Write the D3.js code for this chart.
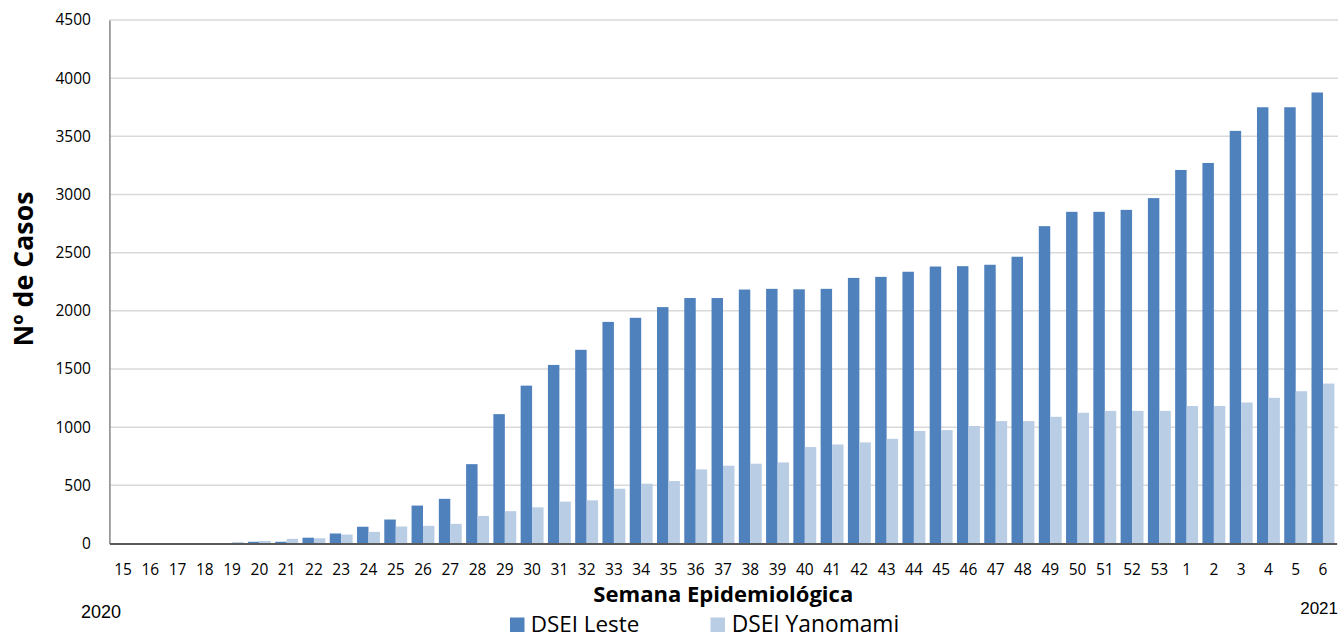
<!DOCTYPE html>
<html>
<head>
<meta charset="utf-8">
<script src="https://cdn.jsdelivr.net/npm/d3@7"></script>
<style>
  html, body { margin: 0; padding: 0; background: #ffffff; }
  svg { display: block; }
</style>
</head>
<body>
<svg id="chart" width="1342" height="635"></svg>
<script>
// ---- data ----
const weeks = ["15","16","17","18","19","20","21","22","23","24","25","26","27","28","29","30","31","32","33","34","35","36","37","38","39","40","41","42","43","44","45","46","47","48","49","50","51","52","53","1","2","3","4","5","6"];
const leste = [0,0,0,0,3,15,15,50,86,144,206,326,384,682,1112,1357,1535,1665,1905,1940,2032,2110,2110,2183,2189,2185,2189,2283,2292,2336,2381,2384,2396,2465,2728,2851,2851,2868,2969,3211,3271,3547,3750,3750,3877];
const yanomami = [0,0,0,0,12,22,40,45,77,100,146,152,169,237,278,311,360,371,471,514,537,637,669,686,697,829,851,869,900,967,975,1010,1052,1052,1089,1124,1140,1140,1140,1182,1182,1212,1252,1309,1375];
const seriesNames = ["DSEI Leste", "DSEI Yanomami"];
const yTicks = [0,500,1000,1500,2000,2500,3000,3500,4000,4500];
const yearLabels = ["2020", "2021"];
const yTitle = "Nº de Casos";
const xTitle = "Semana Epidemiológica";

// ---- layout ----
const colors = ["#4f81bd", "#b9cde5"];
const M = { left: 109.4, right: 1336.6, top: 20, bottom: 543.5 };
const svg = d3.select("#chart");
const tickFont = "'Open Sans', 'DejaVu Sans', sans-serif";

const x = d3.scaleBand().domain(weeks).range([M.left, M.right]).paddingInner(0.16).paddingOuter(0.08);
const xs = d3.scaleBand().domain(seriesNames).range([0, x.bandwidth()]).padding(0);
const y = d3.scaleLinear().domain([0, 4500]).range([M.bottom, M.top]);

// gridlines
svg.append("g").selectAll("line").data(yTicks.filter(d => d > 0)).join("line")
  .attr("x1", M.left).attr("x2", 1338)
  .attr("y1", d => y(d)).attr("y2", d => y(d))
  .attr("stroke", "#d9d9d9").attr("stroke-width", 1.5);

// bars
const rows = weeks.map((w, i) => ({ week: w, values: [leste[i], yanomami[i]] }));
const groups = svg.append("g").selectAll("g").data(rows).join("g")
  .attr("transform", d => `translate(${x(d.week)},0)`);
groups.selectAll("rect").data(d => d.values.map((v, k) => ({ name: seriesNames[k], v, k }))).join("rect")
  .attr("x", d => xs(d.name))
  .attr("width", xs.bandwidth())
  .attr("y", d => y(d.v))
  .attr("height", d => M.bottom - y(d.v))
  .attr("fill", d => colors[d.k]);

// y axis
const yAxis = svg.append("g").attr("transform", `translate(${M.left},0)`)
  .call(d3.axisLeft(y).tickValues(yTicks).tickSize(0).tickPadding(18.5).tickFormat(d3.format("d")));
yAxis.select(".domain").attr("stroke", "#868686").attr("stroke-width", 1.5);
yAxis.selectAll("text").attr("font-family", tickFont).attr("font-size", "15.5px").attr("fill", "#000");

// x axis
const xAxis = svg.append("g").attr("transform", `translate(0,${M.bottom})`)
  .call(d3.axisBottom(x).tickSize(0).tickPadding(20));
xAxis.select(".domain").attr("stroke", "#595959").attr("stroke-width", 2);
xAxis.selectAll("text").attr("font-family", tickFont).attr("font-size", "15.5px").attr("fill", "#000");

function fit(sel, target) {
  const len = sel.node().getComputedTextLength();
  const fs = parseFloat(sel.attr("font-size"));
  if (len > 0) sel.attr("font-size", (fs * target / len).toFixed(2) + "px");
}

// axis titles
const yt = svg.append("text")
  .attr("transform", "translate(32.5,269) rotate(-90)")
  .attr("text-anchor", "middle")
  .attr("font-family", tickFont).attr("font-weight", "bold").attr("font-size", "27px")
  .attr("fill", "#000").text(yTitle);
fit(yt, 155);

const xt = svg.append("text")
  .attr("x", 723.3).attr("y", 601.7)
  .attr("text-anchor", "middle")
  .attr("font-family", tickFont).attr("font-weight", "bold").attr("font-size", "21.5px")
  .attr("fill", "#000").text(xTitle);
fit(xt, 260);

// year labels
svg.append("text").attr("x", 81).attr("y", 618.3)
  .attr("font-family", "'Liberation Sans', Arial, sans-serif").attr("font-size", "18px")
  .attr("fill", "#000").text(yearLabels[0]);
svg.append("text").attr("x", 1338).attr("y", 613.5).attr("text-anchor", "end")
  .attr("font-family", "'Liberation Sans', Arial, sans-serif").attr("font-size", "17px")
  .attr("fill", "#000").text(yearLabels[1]);

// legend
const legendItems = [
  { name: seriesNames[0], sx: 510, tx: 530.7, w: 108.6 },
  { name: seriesNames[1], sx: 710.5, tx: 731.7, w: 167.6 }
];
legendItems.forEach((it, k) => {
  svg.append("rect").attr("x", it.sx).attr("y", 617.5).attr("width", 14.5).attr("height", 14.5).attr("fill", colors[k]);
  const t = svg.append("text").attr("x", it.tx).attr("y", 631.5)
    .attr("font-family", tickFont).attr("font-size", "21px").attr("fill", "#000").text(it.name);
  fit(t, it.w);
});
</script>
</body>
</html>
